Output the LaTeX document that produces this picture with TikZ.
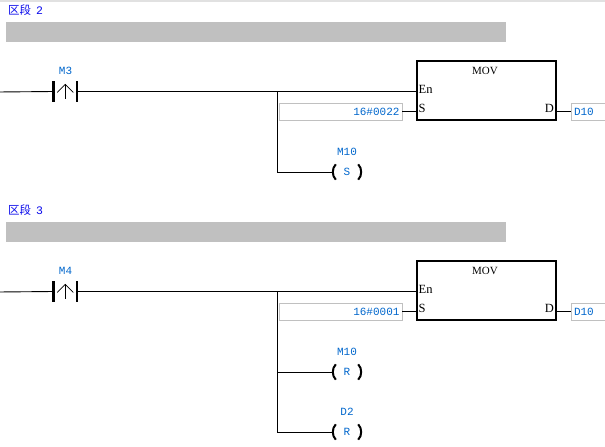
\documentclass[tikz,border=0pt]{standalone}
\usepackage{fontspec}
\setmainfont{Liberation Serif}
\setmonofont{Liberation Mono}
\newfontfamily\cjkfont{Noto Sans CJK SC}
\usetikzlibrary{calc}
\definecolor{lblblue}{RGB}{0,102,204}
\definecolor{secblue}{RGB}{10,10,235}
\definecolor{bargray}{RGB}{192,192,192}
\definecolor{fieldgray}{RGB}{192,192,192}
\definecolor{topgray}{RGB}{225,225,225}
\begin{document}
\begin{tikzpicture}[x=1pt,y=-1pt,
 wire/.style={line width=0.9pt},
 lbl/.style={font=\ttfamily\fontsize{11}{12}\selectfont, text=lblblue, inner sep=0pt},
 sectxt/.style={font=\cjkfont\fontsize{11.5}{12}\selectfont, text=secblue, inner sep=0pt, anchor=west},
 secbar/.style={fill=bargray, draw=none},
 contactbox/.style={minimum width=23.5pt, minimum height=20pt, inner sep=0pt},
 cbar/.style={line width=2.4pt},
 carrow/.style={line width=0.7pt},
 coilbox/.style={minimum width=29pt, minimum height=15pt, inner sep=0pt, font=\ttfamily\fontsize{11}{12}\selectfont, text=lblblue},
 paren/.style={line width=2pt},
 fbbox/.style={draw, line width=1.6pt, minimum width=139pt, minimum height=59pt, inner sep=0pt},
 pin/.style={font=\fontsize{12.5}{13}\selectfont, inner sep=0pt},
 field/.style={lbl, draw=fieldgray, line width=0.9pt, minimum height=17pt, inner sep=2.5pt}
]
\useasboundingbox (0,0) rectangle (605,447);
\clip (0,0) rectangle (605,447);
\draw[topgray, line width=1.2pt] (0,1) -- (605,1);

% ---------------- Section 2 ----------------
\node[sectxt] (sec2) at (8,10.5) {区段\hspace{5pt}{\ttfamily 2}};
\fill[secbar] (6,22) rectangle (506,42);

\coordinate (L1) at (-2,92);
\node[contactbox] (c1) at (65.25,91.5) {};
\draw[cbar] (c1.north west) -- (c1.south west);
\draw[cbar] (c1.north east) -- (c1.south east);
\draw[carrow] ($(c1.south)+(0,-3)$) -- ($(c1.north)+(0,3)$);
\draw[carrow] ($(c1.center)+(-8,1)$) -- ($(c1.north)+(0,3)$) -- ($(c1.center)+(8,1)$);
\node[lbl] (m3) at (65.5,71) {M3};

\node[fbbox] (fb1) at (486.5,90.5) {};
\node[pin, font=\fontsize{11}{12}\selectfont] (mov1) at (485,70.5) {MOV};
\node[pin, anchor=west] (en1) at (418.5,89) {En};
\node[pin, anchor=west] (sp1) at (418.5,108) {S};
\node[pin, anchor=east] (dp1) at (554,108) {D};

\node[field, text width=118pt, align=right] (s1) at (340.5,111.5) {16\#0022};
\node[field, text width=63.5pt, align=left] (d1) at (605.75,111.5) {D10};

\draw[wire] (L1) -- (c1.west);
\draw[wire] (c1.east) -- (c1.east -| fb1.west);
\draw[wire] (s1.east) -- (s1.east -| fb1.west);
\draw[wire] (d1.west -| fb1.east) -- (d1.west);

\coordinate (b1) at (277.5,92);
\node[coilbox] (k1) at (347,172) {S};
\node[lbl] (k1l) at (347,152) {M10};
\draw[wire] (b1) |- (k1.west);
\draw[paren] ($(k1.north west)+(3.5,0)$) .. controls +(-4,4) and +(-4,-4) .. ($(k1.south west)+(3.5,0)$);
\draw[paren] ($(k1.north east)+(-3.5,0)$) .. controls +(4,4) and +(4,-4) .. ($(k1.south east)+(-3.5,0)$);

% ---------------- Section 3 ----------------
\node[sectxt] (sec3) at (8,210.5) {区段\hspace{5pt}{\ttfamily 3}};
\fill[secbar] (6,222) rectangle (506,242);

\coordinate (L2) at (-2,292);
\node[contactbox] (c2) at (65.25,291.5) {};
\draw[cbar] (c2.north west) -- (c2.south west);
\draw[cbar] (c2.north east) -- (c2.south east);
\draw[carrow] ($(c2.south)+(0,-3)$) -- ($(c2.north)+(0,3)$);
\draw[carrow] ($(c2.center)+(-8,1)$) -- ($(c2.north)+(0,3)$) -- ($(c2.center)+(8,1)$);
\node[lbl] (m4) at (65.5,271) {M4};

\node[fbbox] (fb2) at (486.5,290.5) {};
\node[pin, font=\fontsize{11}{12}\selectfont] (mov2) at (485,270.5) {MOV};
\node[pin, anchor=west] (en2) at (418.5,289) {En};
\node[pin, anchor=west] (sp2) at (418.5,308) {S};
\node[pin, anchor=east] (dp2) at (554,308) {D};

\node[field, text width=118pt, align=right] (s2) at (340.5,311.5) {16\#0001};
\node[field, text width=63.5pt, align=left] (d2) at (605.75,311.5) {D10};

\draw[wire] (L2) -- (c2.west);
\draw[wire] (c2.east) -- (c2.east -| fb2.west);
\draw[wire] (s2.east) -- (s2.east -| fb2.west);
\draw[wire] (d2.west -| fb2.east) -- (d2.west);

\coordinate (b2) at (277.5,292);
\node[coilbox] (k2) at (347,372) {R};
\node[lbl] (k2l) at (347,352) {M10};
\node[coilbox] (k3) at (347,432) {R};
\node[lbl] (k3l) at (347,412) {D2};
\draw[wire] (b2) |- (k3.west);
\draw[wire] (b2 |- k2.west) -- (k2.west);
\foreach \k in {k2,k3}{
  \draw[paren] ($(\k.north west)+(3.5,0)$) .. controls +(-4,4) and +(-4,-4) .. ($(\k.south west)+(3.5,0)$);
  \draw[paren] ($(\k.north east)+(-3.5,0)$) .. controls +(4,4) and +(4,-4) .. ($(\k.south east)+(-3.5,0)$);
}
\end{tikzpicture}
\end{document}
